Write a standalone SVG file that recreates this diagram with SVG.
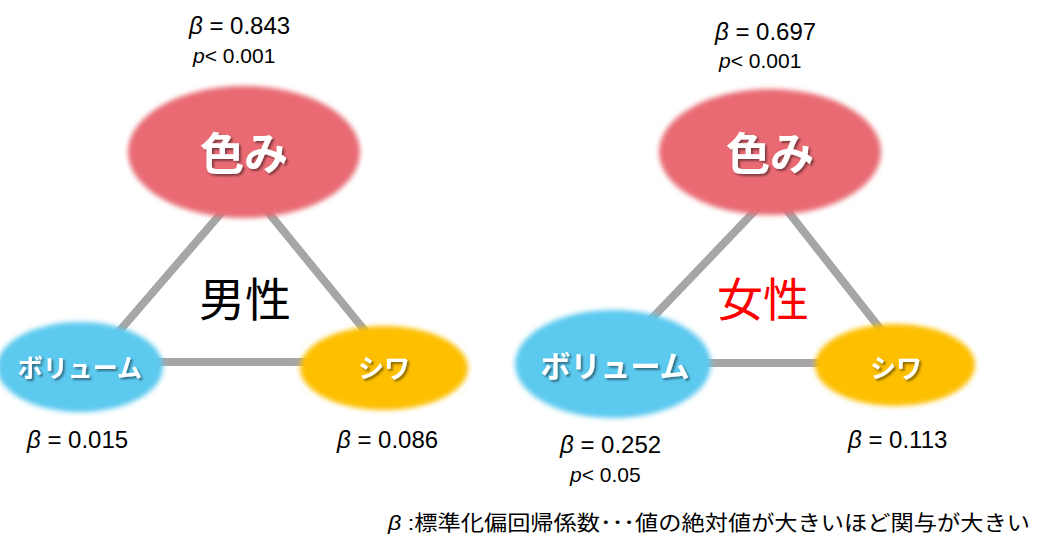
<svg xmlns="http://www.w3.org/2000/svg" width="1037" height="535" viewBox="0 0 1037 535">
<defs>
<filter id="soft" x="-20%" y="-20%" width="140%" height="140%"><feGaussianBlur stdDeviation="2.5"/></filter>
<filter id="tshadow" x="-10%" y="-20%" width="130%" height="150%">
<feGaussianBlur in="SourceAlpha" stdDeviation="1"/>
<feOffset dx="1.5" dy="1.5" result="b"/>
<feFlood flood-color="#000" flood-opacity="0.45"/>
<feComposite in2="b" operator="in"/>
<feMerge><feMergeNode/><feMergeNode in="SourceGraphic"/></feMerge>
</filter>
</defs>
<style>
.lat{font-family:"Liberation Sans",Arial,sans-serif;fill:#000}
.it{font-style:italic}
.nl{font-family:"Noto Sans CJK JP",sans-serif;font-weight:bold;fill:#fff;text-anchor:middle}
.conn line{stroke:#A6A6A6;stroke-width:8}
.red{fill:#E96A73}
.blue{fill:#5BC9EF}
.yel{fill:#FDBF00}
.title{font-family:"Noto Sans CJK JP",sans-serif;font-size:46px;text-anchor:middle}
</style>
<rect width="1037" height="535" fill="#fff"/>
<g id="connectors" class="conn">
<line x1="241" y1="190" x2="103" y2="350"/>
<line x1="250" y1="190" x2="375" y2="343"/>
<line x1="150" y1="362" x2="320" y2="362"/>
<line x1="770" y1="195" x2="636" y2="335"/>
<line x1="775" y1="195" x2="893" y2="345"/>
<line x1="690" y1="363" x2="840" y2="363"/>
</g>
<g id="m-color">
<ellipse class="red" cx="244" cy="152" rx="116" ry="66" filter="url(#soft)"/>
<text class="nl" x="244" y="170" font-size="44" filter="url(#tshadow)">色み</text>
</g>
<g id="m-volume">
<ellipse class="blue" cx="80" cy="367" rx="83" ry="45" filter="url(#soft)"/>
<text class="nl" x="80" y="377" font-size="25" filter="url(#tshadow)">ボリューム</text>
</g>
<g id="m-wrinkle">
<ellipse class="yel" cx="384" cy="368" rx="84" ry="42" filter="url(#soft)"/>
<text class="nl" x="384" y="378" font-size="26" filter="url(#tshadow)">シワ</text>
</g>
<g id="m-title"><text class="title" x="245" y="316" fill="#000">男性</text></g>
<g id="f-color">
<ellipse class="red" cx="770" cy="152" rx="111" ry="63" filter="url(#soft)"/>
<text class="nl" x="770" y="170" font-size="44" filter="url(#tshadow)">色み</text>
</g>
<g id="f-volume">
<ellipse class="blue" cx="613" cy="364" rx="98" ry="54" filter="url(#soft)"/>
<text class="nl" x="615" y="377" font-size="30" filter="url(#tshadow)">ボリューム</text>
</g>
<g id="f-wrinkle">
<ellipse class="yel" cx="895" cy="365" rx="80" ry="41" filter="url(#soft)"/>
<text class="nl" x="896" y="378" font-size="26" filter="url(#tshadow)">シワ</text>
</g>
<g id="f-title"><text class="title" x="763" y="316" fill="#FF0000">女性</text></g>
<g id="stats" class="lat">
<text x="189" y="34" font-size="24"><tspan class="it">β</tspan> = 0.843</text>
<text x="193" y="63" font-size="21"><tspan class="it">p</tspan>&lt; 0.001</text>
<text x="27" y="448" font-size="24"><tspan class="it">β</tspan> = 0.015</text>
<text x="337" y="448" font-size="24"><tspan class="it">β</tspan> = 0.086</text>
<text x="715" y="40" font-size="24"><tspan class="it">β</tspan> = 0.697</text>
<text x="719" y="68" font-size="21"><tspan class="it">p</tspan>&lt; 0.001</text>
<text x="560" y="453" font-size="24"><tspan class="it">β</tspan> = 0.252</text>
<text x="570" y="482" font-size="21"><tspan class="it">p</tspan>&lt; 0.05</text>
<text x="848" y="448" font-size="24"><tspan class="it">β</tspan> = 0.113</text>
</g>
<g id="legend">
<text x="388" y="530" font-size="21" font-family="'Liberation Sans','Noto Sans CJK JP',sans-serif" textLength="642" lengthAdjust="spacingAndGlyphs"><tspan font-style="italic">β</tspan> :標準化偏回帰係数･･･値の絶対値が大きいほど関与が大きい</text>
</g>
</svg>
